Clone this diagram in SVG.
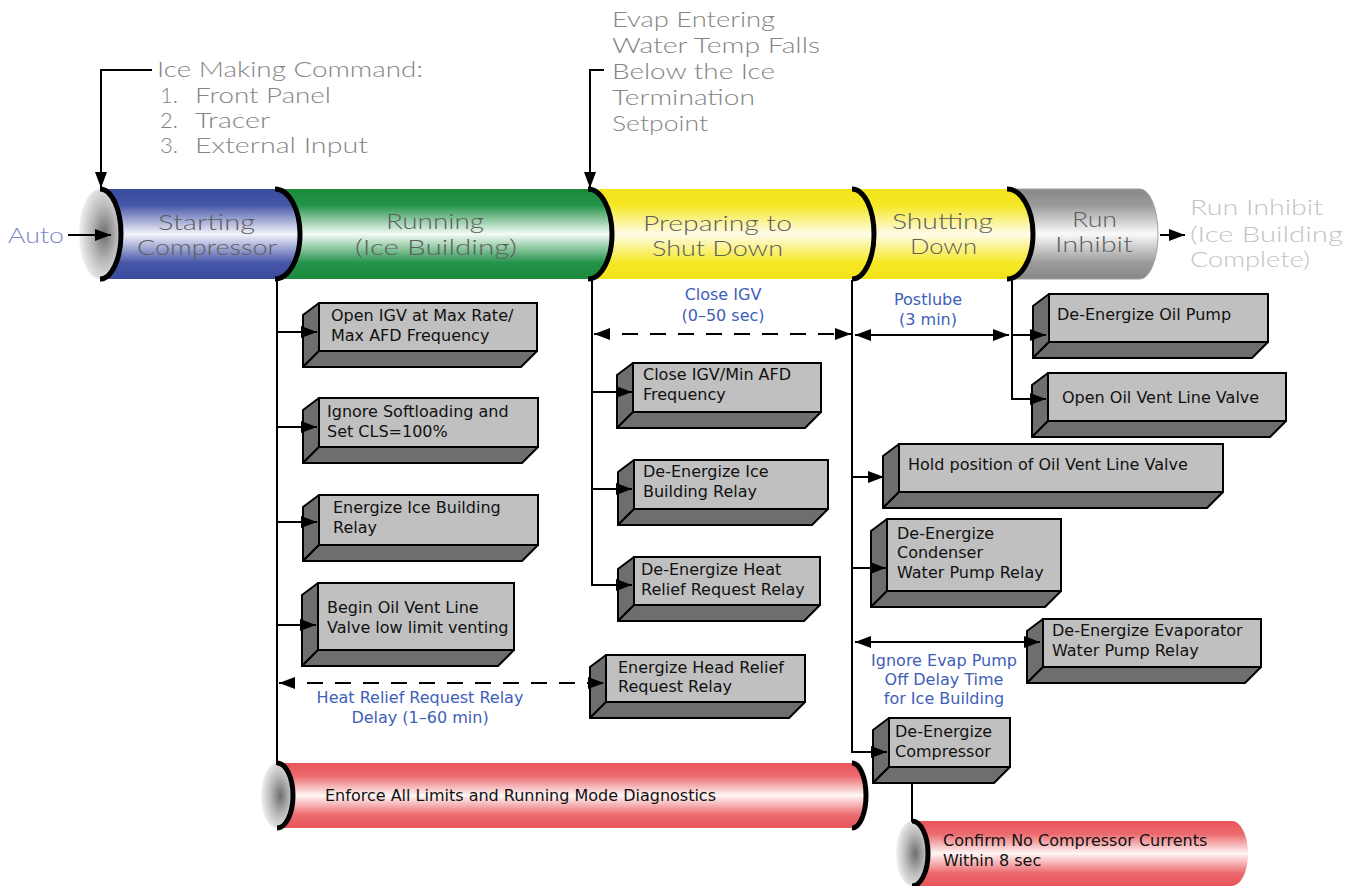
<svg xmlns="http://www.w3.org/2000/svg" width="1358" height="886" viewBox="0 0 1358 886">
<style>
.ann{font-family:Lato,"Liberation Sans",Arial,sans-serif;font-weight:300;font-size:21px;fill:#858585}
.pt{font-family:Lato,"Liberation Sans",Arial,sans-serif;font-weight:300;font-size:22px;fill:#5e5e5e}
.bt{font-family:"DejaVu Sans",Verdana,sans-serif;font-size:16px;fill:#111}
.bl{font-family:"DejaVu Sans",Verdana,sans-serif;font-size:16px;fill:#4060b8;text-anchor:middle}
.front{fill:#c0c0c0;stroke:#000;stroke-width:2}
.side{fill:#6e6e6e;stroke:#000;stroke-width:2;stroke-linejoin:round}
.rim{fill:none;stroke:#000;stroke-width:5}
.ln{fill:none;stroke:#000;stroke-width:2}
.dash{fill:none;stroke:#000;stroke-width:2;stroke-dasharray:16 12}
</style>
<defs>
<linearGradient id="gBlue" x1="0" y1="0" x2="0" y2="1"><stop offset="0" stop-color="#3a4a9e"/><stop offset="0.18" stop-color="#4656a8"/><stop offset="0.5" stop-color="#f4f4fb"/><stop offset="0.82" stop-color="#4656a8"/><stop offset="1" stop-color="#3a4a9e"/></linearGradient>
<linearGradient id="gGreen" x1="0" y1="0" x2="0" y2="1"><stop offset="0" stop-color="#1c8a3a"/><stop offset="0.18" stop-color="#24934a"/><stop offset="0.5" stop-color="#f4fbf6"/><stop offset="0.82" stop-color="#24934a"/><stop offset="1" stop-color="#1c8a3a"/></linearGradient>
<linearGradient id="gYellow" x1="0" y1="0" x2="0" y2="1"><stop offset="0" stop-color="#f2e41a"/><stop offset="0.18" stop-color="#f5e824"/><stop offset="0.5" stop-color="#fffcea"/><stop offset="0.82" stop-color="#f5e824"/><stop offset="1" stop-color="#f2e41a"/></linearGradient>
<linearGradient id="gGray" x1="0" y1="0" x2="0" y2="1"><stop offset="0" stop-color="#888"/><stop offset="0.18" stop-color="#9a9a9a"/><stop offset="0.5" stop-color="#fafafa"/><stop offset="0.82" stop-color="#9a9a9a"/><stop offset="1" stop-color="#888"/></linearGradient>
<linearGradient id="gRed" x1="0" y1="0" x2="0" y2="1"><stop offset="0" stop-color="#e8545a"/><stop offset="0.2" stop-color="#ec6a6e"/><stop offset="0.5" stop-color="#fff6f6"/><stop offset="0.8" stop-color="#ec6a6e"/><stop offset="1" stop-color="#e8545a"/></linearGradient>
<radialGradient id="gCap" cx="0.6" cy="0.5" r="0.6"><stop offset="0" stop-color="#6e6e6e"/><stop offset="0.5" stop-color="#b8b8b8"/><stop offset="1" stop-color="#f2f2f2"/></radialGradient>
<marker id="ah" viewBox="0 0 16 12" refX="16" refY="6" markerWidth="16" markerHeight="12" markerUnits="userSpaceOnUse" orient="auto-start-reverse"><path d="M0,0 L16,6 L0,12 Z" fill="#000"/></marker>
</defs>

<!-- annotations -->
<g id="ice-command">
<text class="ann" x="157" y="77" textLength="266" lengthAdjust="spacingAndGlyphs">Ice Making Command:</text>
<text class="ann" x="160" y="103" textLength="18" lengthAdjust="spacingAndGlyphs">1.</text>
<text class="ann" x="195" y="103" textLength="136" lengthAdjust="spacingAndGlyphs">Front Panel</text>
<text class="ann" x="160" y="128" textLength="18" lengthAdjust="spacingAndGlyphs">2.</text>
<text class="ann" x="195" y="128" textLength="75" lengthAdjust="spacingAndGlyphs">Tracer</text>
<text class="ann" x="160" y="153" textLength="18" lengthAdjust="spacingAndGlyphs">3.</text>
<text class="ann" x="195" y="153" textLength="173" lengthAdjust="spacingAndGlyphs">External Input</text>
</g>
<g id="evap-condition">
<text class="ann" x="612" y="27" textLength="163" lengthAdjust="spacingAndGlyphs">Evap Entering</text>
<text class="ann" x="612" y="53" textLength="208" lengthAdjust="spacingAndGlyphs">Water Temp Falls</text>
<text class="ann" x="612" y="79" textLength="163" lengthAdjust="spacingAndGlyphs">Below the Ice</text>
<text class="ann" x="612" y="105" textLength="143" lengthAdjust="spacingAndGlyphs">Termination</text>
<text class="ann" x="612" y="131" textLength="96" lengthAdjust="spacingAndGlyphs">Setpoint</text>
</g>
<g id="auto"><text class="ann" x="8" y="243" textLength="56" lengthAdjust="spacingAndGlyphs" style="fill:#7d85cc">Auto</text></g>
<g id="run-inhibit-out">
<text class="ann" x="1190" y="215" textLength="133" lengthAdjust="spacingAndGlyphs" style="fill:#c4c4c4">Run Inhibit</text>
<text class="ann" x="1190" y="242" textLength="153" lengthAdjust="spacingAndGlyphs" style="fill:#c4c4c4">(Ice Building</text>
<text class="ann" x="1190" y="267" textLength="120" lengthAdjust="spacingAndGlyphs" style="fill:#c4c4c4">Complete)</text>
</g>

<!-- main pipe -->
<g id="pipe-cap"><ellipse cx="100" cy="234" rx="21" ry="45" fill="url(#gCap)"/></g>
<g id="starting">
<path d="M100,189 L275,189 A25,45 0 0 1 275,279 L100,279 A21,45 0 0 0 100,189 Z" fill="url(#gBlue)"/>
<text class="pt" x="158" y="230" textLength="97" lengthAdjust="spacingAndGlyphs">Starting</text>
<text class="pt" x="137" y="255" textLength="140" lengthAdjust="spacingAndGlyphs">Compressor</text>
</g>
<g id="running">
<path d="M275,189 L588,189 A24,45 0 0 1 588,279 L275,279 A25,45 0 0 0 275,189 Z" fill="url(#gGreen)"/>
<text class="pt" x="386" y="229" textLength="98" lengthAdjust="spacingAndGlyphs">Running</text>
<text class="pt" x="355" y="255" textLength="162" lengthAdjust="spacingAndGlyphs">(Ice Building)</text>
</g>
<g id="preparing">
<path d="M588,189 L852,189 A22,45 0 0 1 852,279 L588,279 A24,45 0 0 0 588,189 Z" fill="url(#gYellow)"/>
<text class="pt" x="643" y="231" textLength="149" lengthAdjust="spacingAndGlyphs">Preparing to</text>
<text class="pt" x="652" y="256" textLength="131" lengthAdjust="spacingAndGlyphs">Shut Down</text>
</g>
<g id="shutting">
<path d="M852,189 L1007,189 A26,45 0 0 1 1007,279 L852,279 A22,45 0 0 0 852,189 Z" fill="url(#gYellow)"/>
<text class="pt" x="892" y="229" textLength="101" lengthAdjust="spacingAndGlyphs">Shutting</text>
<text class="pt" x="910" y="254" textLength="67" lengthAdjust="spacingAndGlyphs">Down</text>
</g>
<g id="run-inhibit">
<path d="M1007,189 L1140,189 A18,45 0 0 1 1140,279 L1007,279 A26,45 0 0 0 1007,189 Z" fill="url(#gGray)" stroke="#a0a0a0" stroke-width="1"/>
<text class="pt" x="1072" y="227" textLength="45" lengthAdjust="spacingAndGlyphs">Run</text>
<text class="pt" x="1055" y="252" textLength="78" lengthAdjust="spacingAndGlyphs">Inhibit</text>
</g>
<g id="rims">
<path class="rim" d="M100,189 A21,45 0 0 1 100,279"/>
<path class="rim" d="M275,189 A25,45 0 0 1 275,279"/>
<path class="rim" d="M588,189 A24,45 0 0 1 588,279"/>
<path class="rim" d="M852,189 A22,45 0 0 1 852,279"/>
<path class="rim" d="M1007,189 A26,45 0 0 1 1007,279"/>
</g>

<!-- red pipes -->
<g id="enforce-limits">
<ellipse cx="277" cy="795.5" rx="16" ry="32.5" fill="url(#gCap)"/>
<path d="M277,763 L852,763 A14,32.5 0 0 1 852,828 L277,828 A16,32.5 0 0 0 277,763 Z" fill="url(#gRed)"/>
<path class="rim" d="M277,763 A16,32.5 0 0 1 277,828"/>
<path class="rim" d="M852,763 A14,32.5 0 0 1 852,828"/>
<text class="bt" x="325" y="801">Enforce All Limits and Running Mode Diagnostics</text>
</g>
<g id="confirm-currents">
<ellipse cx="912" cy="853.5" rx="16" ry="32.5" fill="url(#gCap)"/>
<path d="M912,821 L1232,821 A16,32.5 0 0 1 1232,886 L912,886 A16,32.5 0 0 0 912,821 Z" fill="url(#gRed)"/>
<path class="rim" d="M912,821 A16,32.5 0 0 1 912,886"/>
<text class="bt" x="943" y="846">Confirm No Compressor Currents</text>
<text class="bt" x="943" y="866">Within 8 sec</text>
</g>

<!-- boxes -->
<g id="box-open-igv">
<polygon class="side" points="303,315 319,303 319,351 303,367"/>
<polygon class="side" points="303,367 319,351 537,351 521,367"/>
<rect class="front" x="319" y="303" width="218" height="48"/>
<text class="bt" x="331" y="321">Open IGV at Max Rate/</text>
<text class="bt" x="331" y="341">Max AFD Frequency</text>
</g>
<g id="box-ignore-softloading">
<polygon class="side" points="303,410 319,398 319,447 303,463"/>
<polygon class="side" points="303,463 319,447 538,447 522,463"/>
<rect class="front" x="319" y="398" width="219" height="49"/>
<text class="bt" x="327" y="417">Ignore Softloading and</text>
<text class="bt" x="327" y="437">Set CLS=100%</text>
</g>
<g id="box-energize-ice">
<polygon class="side" points="303,507 319,495 319,545 303,561"/>
<polygon class="side" points="303,561 319,545 538,545 522,561"/>
<rect class="front" x="319" y="495" width="219" height="50"/>
<text class="bt" x="333" y="513">Energize Ice Building</text>
<text class="bt" x="333" y="533">Relay</text>
</g>
<g id="box-begin-oil-vent">
<polygon class="side" points="302,595 318,583 318,650 302,666"/>
<polygon class="side" points="302,666 318,650 514,650 498,666"/>
<rect class="front" x="318" y="583" width="196" height="67"/>
<text class="bt" x="327" y="613">Begin Oil Vent Line</text>
<text class="bt" x="327" y="633">Valve low limit venting</text>
</g>
<g id="box-energize-head-relief">
<polygon class="side" points="590,667 606,655 606,702 590,718"/>
<polygon class="side" points="590,718 606,702 805,702 789,718"/>
<rect class="front" x="606" y="655" width="199" height="47"/>
<text class="bt" x="618" y="673">Energize Head Relief</text>
<text class="bt" x="618" y="692">Request Relay</text>
</g>
<g id="box-close-igv-min">
<polygon class="side" points="617,375 633,363 633,412 617,428"/>
<polygon class="side" points="617,428 633,412 821,412 805,428"/>
<rect class="front" x="633" y="363" width="188" height="49"/>
<text class="bt" x="643" y="380">Close IGV/Min AFD</text>
<text class="bt" x="643" y="400">Frequency</text>
</g>
<g id="box-deenergize-ice">
<polygon class="side" points="618,472 634,460 634,509 618,525"/>
<polygon class="side" points="618,525 634,509 828,509 812,525"/>
<rect class="front" x="634" y="460" width="194" height="49"/>
<text class="bt" x="643" y="477">De-Energize Ice</text>
<text class="bt" x="643" y="497">Building Relay</text>
</g>
<g id="box-deenergize-heat-relief">
<polygon class="side" points="618,569 634,557 634,605 618,621"/>
<polygon class="side" points="618,621 634,605 820,605 804,621"/>
<rect class="front" x="634" y="557" width="186" height="48"/>
<text class="bt" x="641" y="575">De-Energize Heat</text>
<text class="bt" x="641" y="595">Relief Request Relay</text>
</g>
<g id="box-hold-oil-vent">
<polygon class="side" points="883,456 899,444 899,492 883,508"/>
<polygon class="side" points="883,508 899,492 1223,492 1207,508"/>
<rect class="front" x="899" y="444" width="324" height="48"/>
<text class="bt" x="908" y="470">Hold position of Oil Vent Line Valve</text>
</g>
<g id="box-deenergize-condenser">
<polygon class="side" points="871,531 887,519 887,591 871,607"/>
<polygon class="side" points="871,607 887,591 1061,591 1045,607"/>
<rect class="front" x="887" y="519" width="174" height="72"/>
<text class="bt" x="897" y="539">De-Energize</text>
<text class="bt" x="897" y="558">Condenser</text>
<text class="bt" x="897" y="578">Water Pump Relay</text>
</g>
<g id="box-deenergize-evaporator">
<polygon class="side" points="1027,631 1043,619 1043,667 1027,683"/>
<polygon class="side" points="1027,683 1043,667 1261,667 1245,683"/>
<rect class="front" x="1043" y="619" width="218" height="48"/>
<text class="bt" x="1052" y="636">De-Energize Evaporator</text>
<text class="bt" x="1052" y="656">Water Pump Relay</text>
</g>
<g id="box-deenergize-compressor">
<polygon class="side" points="873,730 889,718 889,767 873,783"/>
<polygon class="side" points="873,783 889,767 1010,767 994,783"/>
<rect class="front" x="889" y="718" width="121" height="49"/>
<text class="bt" x="895" y="737">De-Energize</text>
<text class="bt" x="895" y="757">Compressor</text>
</g>
<g id="box-deenergize-oil-pump">
<polygon class="side" points="1033,306 1049,294 1049,342 1033,358"/>
<polygon class="side" points="1033,358 1049,342 1268,342 1252,358"/>
<rect class="front" x="1049" y="294" width="219" height="48"/>
<text class="bt" x="1057" y="320">De-Energize Oil Pump</text>
</g>
<g id="box-open-oil-vent">
<polygon class="side" points="1032,385 1048,373 1048,421 1032,437"/>
<polygon class="side" points="1032,437 1048,421 1286,421 1270,437"/>
<rect class="front" x="1048" y="373" width="238" height="48"/>
<text class="bt" x="1062" y="403">Open Oil Vent Line Valve</text>
</g>

<!-- connectors -->
<g id="connectors">
<polyline class="ln" points="152,70 101,70 101,188" marker-end="url(#ah)"/>
<polyline class="ln" points="604,70 590,70 590,188" marker-end="url(#ah)"/>
<line class="ln" x1="68" y1="235" x2="111" y2="235" marker-end="url(#ah)"/>
<line class="ln" x1="1160" y1="235" x2="1185" y2="235" marker-end="url(#ah)"/>
<line class="ln" x1="277" y1="280" x2="277" y2="765"/>
<line class="ln" x1="276" y1="332" x2="317" y2="332" marker-end="url(#ah)"/>
<line class="ln" x1="276" y1="427" x2="317" y2="427" marker-end="url(#ah)"/>
<line class="ln" x1="276" y1="522" x2="317" y2="522" marker-end="url(#ah)"/>
<line class="ln" x1="276" y1="625" x2="316" y2="625" marker-end="url(#ah)"/>
<line class="dash" x1="279" y1="683" x2="604" y2="683" marker-start="url(#ah)" marker-end="url(#ah)"/>
<line class="ln" x1="592" y1="280" x2="592" y2="586"/>
<line class="ln" x1="591" y1="392" x2="632" y2="392" marker-end="url(#ah)"/>
<line class="ln" x1="591" y1="489" x2="632" y2="489" marker-end="url(#ah)"/>
<line class="ln" x1="591" y1="585" x2="632" y2="585" marker-end="url(#ah)"/>
<line class="dash" x1="594" y1="334" x2="851" y2="334" marker-start="url(#ah)" marker-end="url(#ah)"/>
<polyline class="ln" points="852,280 852,752 887,752" marker-end="url(#ah)"/>
<line class="ln" x1="851" y1="477" x2="884" y2="477" marker-end="url(#ah)"/>
<line class="ln" x1="851" y1="568" x2="886" y2="568" marker-end="url(#ah)"/>
<line class="ln" x1="855" y1="335" x2="1009" y2="335" marker-start="url(#ah)" marker-end="url(#ah)"/>
<line class="ln" x1="855" y1="642" x2="1040" y2="642" marker-start="url(#ah)" marker-end="url(#ah)"/>
<polyline class="ln" points="1012,280 1012,399 1046,399" marker-end="url(#ah)"/>
<line class="ln" x1="1011" y1="335" x2="1046" y2="335" marker-end="url(#ah)"/>
<line class="ln" x1="912" y1="783" x2="912" y2="822"/>
</g>

<!-- connector labels -->
<g id="label-close-igv"><text class="bl" x="723" y="300">Close IGV</text><text class="bl" x="723" y="321">(0–50 sec)</text></g>
<g id="label-postlube"><text class="bl" x="928" y="305">Postlube</text><text class="bl" x="928" y="325">(3 min)</text></g>
<g id="label-heat-relief"><text class="bl" x="420" y="703">Heat Relief Request Relay</text><text class="bl" x="420" y="723">Delay (1–60 min)</text></g>
<g id="label-evap-pump"><text class="bl" x="944" y="666">Ignore Evap Pump</text><text class="bl" x="944" y="685">Off Delay Time</text><text class="bl" x="944" y="704">for Ice Building</text></g>
</svg>
